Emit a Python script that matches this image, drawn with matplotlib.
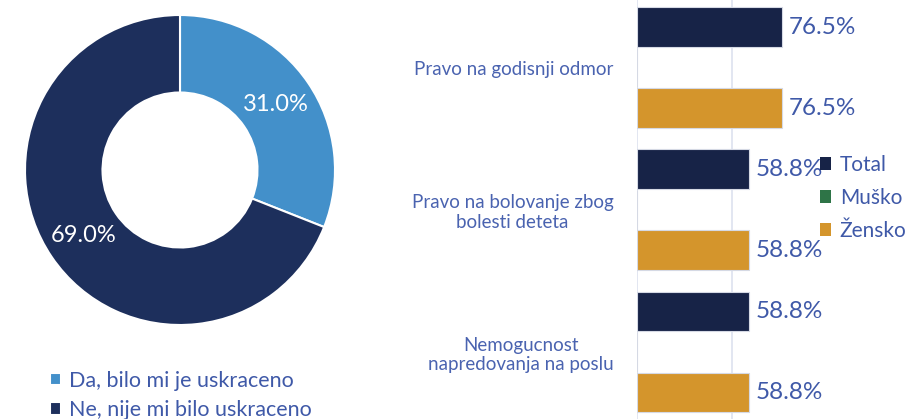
import numpy as np
import matplotlib
matplotlib.use('Agg')
import matplotlib.pyplot as plt
from matplotlib.patches import Patch

plt.rcParams['font.family'] = ['Lato', 'DejaVu Sans']

# Podaci - krug
pie_labels = ['Da, bilo mi je uskraceno', 'Ne, nije mi bilo uskraceno']
pie_values = [31.0, 69.0]
pie_colors = ['#4390CA', '#1D2F5C']

# Podaci - trake
categories = ['Pravo na godisnji odmor',
              'Pravo na bolovanje zbog\nbolesti deteta',
              'Nemogucnost\nnapredovanja na poslu']
series_names = ['Total', 'Muško', 'Žensko']
total = [76.5, 58.8, 58.8]
musko = [0, 0, 0]
zensko = [76.5, 58.8, 58.8]
series_colors = ['#172347', '#2E7447', '#D4952C']

text_color = '#3F59A8'

W, H = 911, 419
fig = plt.figure(figsize=(W / 100, H / 100), dpi=100)

# Krug (donut)
cx, cy, r = 180, 170, 155
ax1 = fig.add_axes([(cx - r) / W, (H - cy - r) / H, 2 * r / W, 2 * r / H])
wedges, _, autotexts = ax1.pie(
    pie_values, colors=pie_colors, startangle=90, counterclock=False,
    autopct='%.1f%%', pctdistance=0.75,
    wedgeprops=dict(width=0.5, edgecolor='white', linewidth=1.5),
    textprops=dict(color='white', fontsize=17))
ax1.set_xlim(-1, 1)
ax1.set_ylim(-1, 1)
ax1.axis('off')

fig.legend(wedges, pie_labels, loc='upper left',
           bbox_to_anchor=(50 / W, 1 - 371 / H), frameon=False,
           fontsize=15.5, labelcolor=text_color, handlelength=0.5,
           handleheight=0.5, handletextpad=0.4, labelspacing=0.42,
           borderaxespad=0, borderpad=0)

# Trake
x0 = 637
px_per_pct = 1.9
ax2 = fig.add_axes([x0 / W, 0, (W - x0) / W, 1])
period = 142.25
c0 = 67.5
w = 40.5 / period
ax2.set_ylim((H - c0) / period, -c0 / period)
ax2.set_xlim(0, (W - x0) / px_per_pct)

y = np.arange(len(categories))
for i, (vals, col) in enumerate(zip([total, musko, zensko], series_colors)):
    pos = y + (i - 1) * w
    ax2.barh(pos, vals, height=w * 0.985, color=col, edgecolor='#d5d9e4',
             linewidth=0.8, zorder=3)
    for p, v in zip(pos, vals):
        if v > 0:
            ax2.text(v + 3.5, p, f'{v:.1f}%', va='center', ha='left',
                     fontsize=17.5, color=text_color, zorder=4)

ax2.set_xticks([0, 50])
ax2.grid(axis='x', color='#DDE1EF', linewidth=1.2, zorder=0)
ax2.set_yticks(y)
ax2.set_yticklabels(categories, fontsize=13.5, color='#4A63B0',
                    multialignment='center')
ax2.tick_params(axis='y', length=0, pad=17)
ax2.tick_params(axis='x', length=0, labelbottom=False)
for s in ax2.spines.values():
    s.set_visible(False)

handles = [Patch(facecolor=c, edgecolor='none') for c in series_colors]
fig.legend(handles, series_names, loc='upper left',
           bbox_to_anchor=(820 / W, 1 - 155 / H), frameon=False,
           fontsize=15, labelcolor=text_color, handlelength=0.55,
           handleheight=0.55, handletextpad=0.4, labelspacing=0.62,
           borderaxespad=0, borderpad=0)

fig.savefig('out.png', dpi=100)
